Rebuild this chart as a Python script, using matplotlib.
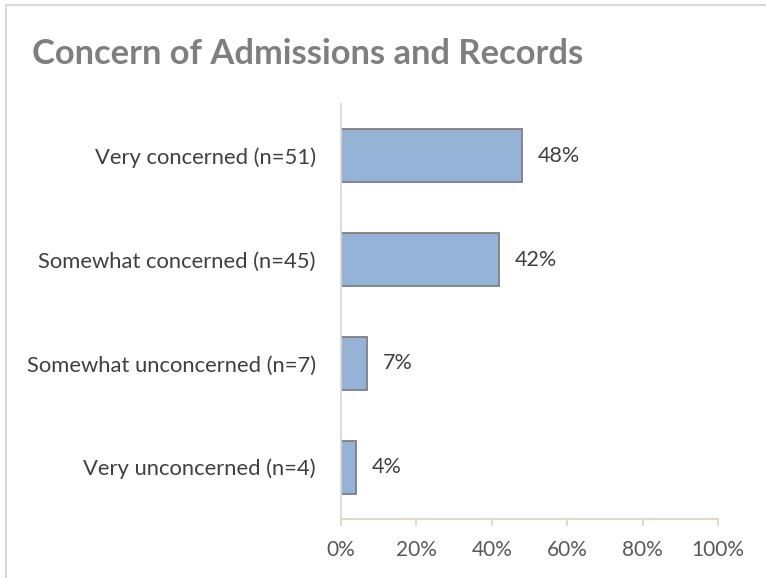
import numpy as np
import matplotlib.pyplot as plt
from matplotlib.patches import Rectangle

# chart data
categories = ['Very concerned (n=51)', 'Somewhat concerned (n=45)',
              'Somewhat unconcerned (n=7)', 'Very unconcerned (n=4)']
shares = [48, 42, 7, 4]
ticks = [0, 20, 40, 60, 80, 100]
tick_labels = ['0%', '20%', '40%', '60%', '80%', '100%']

plt.rcParams['font.family'] = ['Lato', 'DejaVu Sans']

fig = plt.figure(figsize=(7.66, 5.78), dpi=100)
# outer frame, runs off the right and bottom edges like the original
fig.patches.append(Rectangle((6 / 766, -0.05), 1.0, 1 - 5 / 578 + 0.05, transform=fig.transFigure,
                             fill=False, edgecolor='#d9d9d9', linewidth=1.5))

# axes placement in pixels: x 341..718, y 104..519
ax = fig.add_axes([341 / 766, 1 - 519 / 578, 377 / 766, 415 / 578])

y = np.arange(len(categories))
ax.barh(y, shares, height=0.51, color='#95b3d7', edgecolor='#7f7f7f', linewidth=1.3)
ax.set_ylim(len(categories) - 0.5, -0.5)
ax.set_xlim(0, 100)

for yi, v in zip(y, shares):
    ax.text(v + 4.2, yi, f'{v}%', va='center', ha='left', fontsize=15.5, color='#404040')

ax.set_yticks(y)
ax.set_yticklabels(categories, fontsize=15.8, color='#404040')
ax.set_xticks(ticks)
ax.set_xticklabels(tick_labels, fontsize=15, color='#595959')
ax.tick_params(axis='y', length=0, pad=18)
ax.tick_params(axis='x', length=5, width=1.3, color='#ddd9c3', pad=10)

for side in ['top', 'right']:
    ax.spines[side].set_visible(False)
ax.spines['left'].set_color('#d9d9d9')
ax.spines['left'].set_linewidth(1.3)
ax.spines['bottom'].set_color('#ddd9c3')
ax.spines['bottom'].set_linewidth(1.5)

fig.text(32 / 766, 1 - 54 / 578, 'Concern of Admissions and Records', fontsize=24.8,
         fontweight='bold', color='#7f7f7f', va='center', ha='left')

fig.savefig('out.png', dpi=100)
